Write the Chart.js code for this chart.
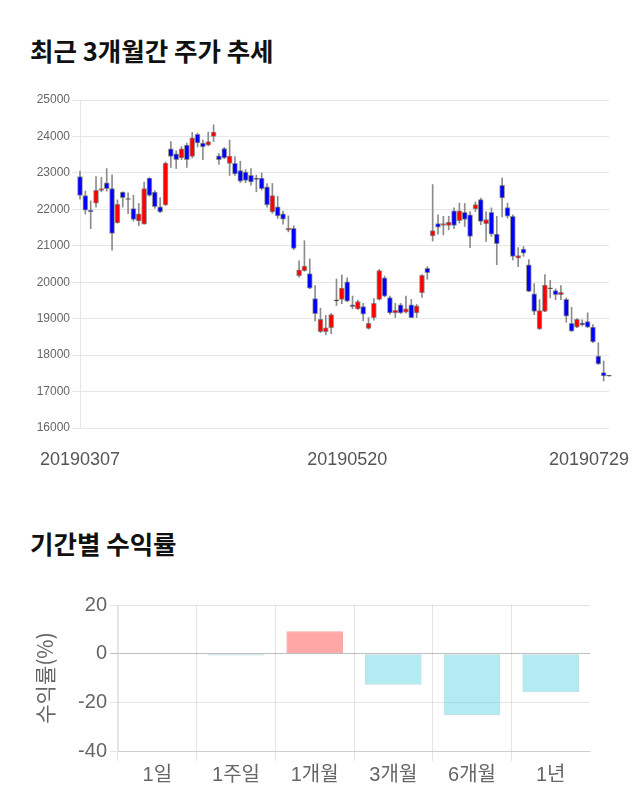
<!DOCTYPE html>
<html><head><meta charset="utf-8">
<script src="https://cdn.jsdelivr.net/npm/chart.js@4"></script>
<style>
html,body{margin:0;padding:0;background:#fff;width:640px;height:810px;overflow:hidden;position:relative;font-family:'Noto Sans CJK KR',sans-serif;}
.title{position:absolute;left:30px;font-weight:bold;font-size:25.5px;color:#111;line-height:1;white-space:nowrap;}
#t1{top:37px;}
#t2{top:530px;}
#c1{position:absolute;left:0;top:80px;}
#c2{position:absolute;left:0;top:580px;}
</style></head><body>
<div class="title" id="t1">최근 3개월간 주가 추세</div>
<div class="title" id="t2">기간별 수익률</div>
<canvas id="c1" width="640" height="400"></canvas>
<canvas id="c2" width="640" height="230"></canvas>
<script>
const dates = [
'20190307','20190308','20190311','20190312','20190313','20190314','20190315','20190318','20190319','20190320',
'20190321','20190322','20190325','20190326','20190327','20190328','20190329','20190401','20190402','20190403',
'20190404','20190405','20190408','20190409','20190410','20190411','20190412','20190415','20190416','20190417',
'20190418','20190419','20190422','20190423','20190424','20190425','20190426','20190429','20190430','20190502',
'20190503','20190507','20190508','20190509','20190510','20190513','20190514','20190515','20190516','20190517',
'20190520','20190521','20190522','20190523','20190524','20190527','20190528','20190529','20190530','20190531',
'20190603','20190604','20190605','20190607','20190610','20190611','20190612','20190613','20190614','20190617',
'20190618','20190619','20190620','20190621','20190624','20190625','20190626','20190627','20190628','20190701',
'20190702','20190703','20190704','20190705','20190708','20190709','20190710','20190711','20190712','20190715',
'20190716','20190717','20190718','20190719','20190722','20190723','20190724','20190725','20190726','20190729'];

const opens = [
22900,22380,21980,22170,22520,22730,22570,21630,22470,22270,
22020,21680,21590,22860,22470,22070,22120,23660,23520,23410,
23760,23450,24060,23820,23760,24000,23470,23670,23260,23260,
23060,23020,22930,22820,22860,22620,21930,22070,21880,21430,
21480,20180,20320,20240,19550,18640,18640,18750,19490,19530,
20010,19380,19270,19330,18730,19030,19530,20120,19580,19160,
19380,19180,19380,19160,19710,20380,21270,21610,21560,21560,
21960,21690,21920,21850,22010,22270,21610,21920,21320,22660,
22050,21810,20660,20910,20480,19680,18720,19200,19820,19770,
19660,19530,18870,18770,18880,18920,18770,17970,17520,17420];

const highs = [
23050,22500,22230,22900,22880,23120,22950,22260,22480,22450,
22390,22160,22750,22870,22510,22320,23300,23860,23610,23720,
23820,24110,24090,23910,24120,24320,23540,23700,23900,23450,
23320,23090,23120,22940,23000,22710,22710,22360,21950,21820,
21550,20590,21140,20640,19910,19290,19090,19140,20090,20200,
20120,19620,19510,19420,19030,19550,20350,20170,19620,19420,
19420,19620,19530,19390,20210,20430,22680,21850,21810,21810,
22040,22170,22160,21940,22200,22310,21940,22040,21810,22860,
22170,21850,20950,20980,20620,19960,19520,20210,20050,19820,
19910,19570,19310,19000,18970,19160,18840,18340,17840,17420];

const lows = [
22280,21870,21470,22060,22480,22500,20880,21620,22060,21880,
21680,21550,21590,22360,22030,21910,22100,23150,23120,23360,
23150,23410,23710,23360,23740,23860,23230,23390,22930,22930,
22730,22730,22660,22480,22530,22060,21890,21750,21590,21380,
20890,20140,20300,19820,18940,18620,18560,18590,19360,19410,
19470,19270,19250,18940,18710,18960,19510,19600,19120,19030,
19140,19150,19030,19030,19580,20080,21130,21320,21300,21440,
21470,21620,21530,20950,21940,21580,21120,21260,20480,21790,
21760,20610,20430,20710,19740,19110,18700,19190,19570,19520,
19520,18900,18650,18750,18800,18750,18340,17740,17290,17420];

const closes = [
22380,21980,21930,22520,22570,22570,21340,22140,22320,22270,
21720,21880,22570,22380,22070,21930,23270,23450,23360,23660,
23360,23960,23820,23710,23860,24120,23360,23410,23460,22970,
22770,22790,22750,22820,22570,22120,22380,21820,21730,21480,
20930,20340,20440,19840,19140,18980,18750,19110,19490,19840,
19480,19330,19470,19120,18870,19420,20320,19620,19160,19230,
19160,19270,19030,19350,20190,20260,21420,21510,21610,21650,
21560,21960,21720,21260,22130,21670,21720,21320,21060,22310,
21810,20710,20730,20800,19750,19200,19220,19920,19820,19660,
19720,19070,18660,18980,18830,18770,18360,17760,17430,17420];

const xTickDates = ['20190307','20190520','20190729'];
const priceMin = 16000, priceMax = 25000, priceStep = 1000;

const periods = ['1일','1주일','1개월','3개월','6개월','1년'];
const returns = [0, -0.8, 9.2, -12.8, -25.3, -15.9];
const returnMin = -40, returnMax = 20, returnStep = 20;

const UP = '#ff0000', DOWN = '#0000ff', FLAT = '#222222';
function candleColor(i){
  if (closes[i] > opens[i]) return UP;
  if (closes[i] < opens[i]) return DOWN;
  return FLAT;
}

new Chart(document.getElementById('c1'), {
  type: 'bar',
  data: {
    labels: dates,
    datasets: [
      {
        data: dates.map((d, i) => [lows[i], highs[i]]),
        backgroundColor: '#8c8c8c',
        borderWidth: 0,
        barThickness: 1,
        grouped: false,
        minBarLength: 1,
        order: 2,
        clip: false
      },
      {
        data: dates.map((d, i) => [opens[i], closes[i]]),
        backgroundColor: ctx => candleColor(ctx.dataIndex),
        borderColor: 'rgba(70,70,70,0.55)',
        borderWidth: 1,
        borderSkipped: false,
        barThickness: 5,
        grouped: false,
        minBarLength: 1,
        order: 1,
        clip: false
      }
    ]
  },
  options: {
    responsive: false,
    animation: false,
    layout: { padding: { top: 20, right: 31, left: 0, bottom: 0 } },
    plugins: { legend: { display: false }, tooltip: { enabled: false } },
    scales: {
      x: {
        offset: false,
        grid: { display: false, drawTicks: false },
        border: { display: false },
        ticks: {
          autoSkip: false, maxRotation: 0, minRotation: 0, padding: 21,
          font: { family: "'Liberation Sans', sans-serif", size: 18 },
          color: '#555',
          callback: (v, i) => {
            const d = dates[i];
            if (!xTickDates.includes(d)) return null;
            return i === dates.length - 1 ? d + '\u2007\u2007\u2007\u2007' : d;
          }
        },
        afterFit: s => { s.height = 52; s.paddingLeft = 0; s.paddingRight = 0; }
      },
      y: {
        min: priceMin, max: priceMax,
        ticks: { stepSize: priceStep, padding: 2, color: '#666',
          callback: v => String(v),
          font: { family: "'Liberation Sans', sans-serif", size: 12 } },
        grid: { color: '#e6e6e6', tickLength: 8 },
        border: { color: '#e6e6e6' },
        afterFit: s => { s.width = 80; s.paddingTop = 0; s.paddingBottom = 0; }
      }
    }
  }
});

new Chart(document.getElementById('c2'), {
  type: 'bar',
  data: {
    labels: periods,
    datasets: [{
      data: returns,
      backgroundColor: ctx => returns[ctx.dataIndex] >= 0 ? 'rgba(255,77,77,0.5)' : 'rgba(102,215,229,0.5)',
      borderColor: ctx => returns[ctx.dataIndex] >= 0 ? 'rgba(235,110,110,0.6)' : 'rgba(110,180,195,0.45)',
      borderWidth: 1,
      borderSkipped: false
    }]
  },
  options: {
    responsive: false,
    animation: false,
    layout: { padding: { top: 25, right: 50, left: 0, bottom: 0 } },
    plugins: { legend: { display: false }, tooltip: { enabled: false } },
    scales: {
      x: {
        grid: { color: ctx => ctx.type === 'tick' ? 'rgba(0,0,0,0.1)' : 'rgba(0,0,0,0)', tickLength: 10, offset: true },
        border: { color: 'rgba(0,0,0,0.1)' },
        ticks: { padding: 2, color: '#666',
          font: { family: "'Liberation Sans', 'Noto Sans CJK KR', sans-serif", size: 20 } },
        afterFit: s => { s.height = 59; }
      },
      y: {
        min: returnMin, max: returnMax,
        ticks: { stepSize: returnStep, padding: 3, color: '#666',
          font: { family: "'Liberation Sans', sans-serif", size: 20 } },
        grid: { color: ctx => (ctx.tick && ctx.tick.value === 0) ? 'rgba(0,0,0,0.25)' : 'rgba(0,0,0,0.1)', tickLength: 8 },
        border: { color: 'rgba(0,0,0,0.1)' },
        title: { display: true, text: '수익률(%)', color: '#666', padding: { top: 32, bottom: 0 },
          font: { family: "'Noto Sans CJK KR', sans-serif", size: 21 } },
        afterFit: s => { s.width = 118; s.paddingTop = 0; s.paddingBottom = 0; }
      }
    }
  }
});
</script>
</body></html>
